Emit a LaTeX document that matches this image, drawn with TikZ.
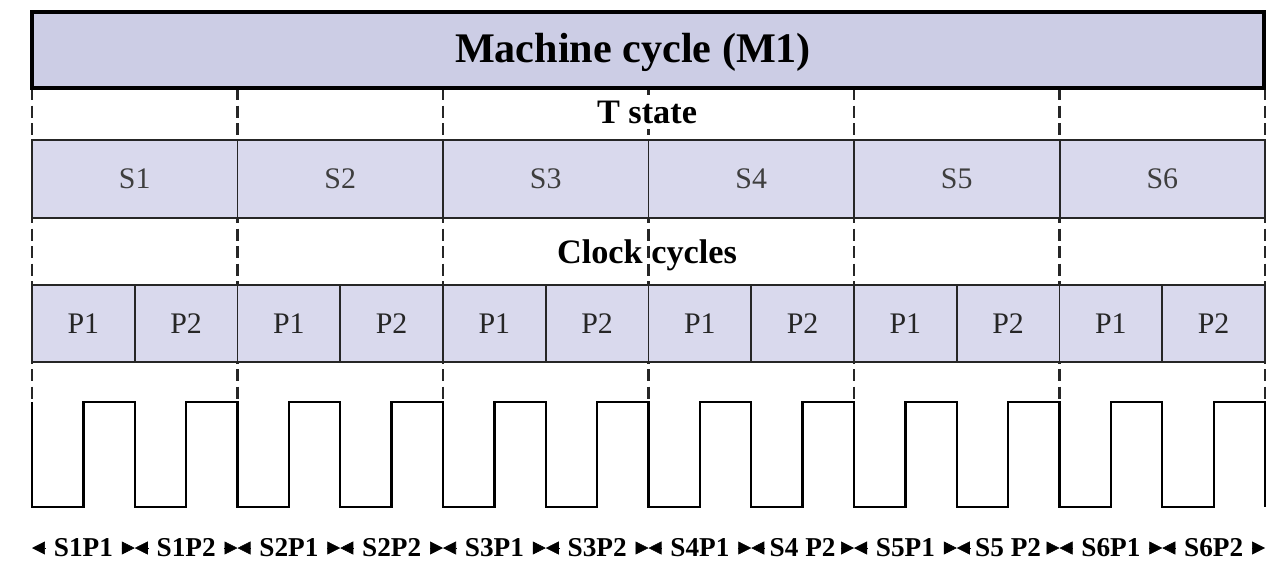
\documentclass[tikz,border=0pt]{standalone}
\usepackage{fontspec}
\setmainfont{Liberation Serif}
\usetikzlibrary{arrows.meta}
\definecolor{headfill}{RGB}{204,205,229}
\definecolor{cellfill}{RGB}{217,217,237}
\definecolor{labgray}{RGB}{62,62,62}

\begin{document}
\begin{tikzpicture}[x=0.02cm, y=-0.02cm,
  every node/.style={inner sep=0pt, outer sep=0pt},
  head/.style={draw=black, line width=2.2pt, fill=headfill,
    minimum width=24.64cm, minimum height=1.52cm},
  htext/.style={anchor=base, font=\bfseries\fontsize{24}{24}\selectfont},
  rowtitle/.style={anchor=base, font=\bfseries\fontsize{19.5}{20}\selectfont},
  scell/.style={draw=black!85, line width=1.1pt, fill=cellfill,
    minimum width=4.11cm, minimum height=1.56cm, text=labgray,
    font=\fontsize{17}{17}\selectfont},
  pcell/.style={draw=black!85, line width=1.1pt, fill=cellfill,
    minimum width=2.055cm, minimum height=1.54cm, text=black!85,
    font=\fontsize{17}{17}\selectfont},
  guide/.style={black!85, line width=1.4pt, dash pattern=on 7pt off 3pt},
  wave/.style={black, line width=1.3pt, line join=miter},
  lab/.style={minimum width=1.535cm, font=\bfseries\fontsize{15.5}{15.5}\selectfont},
  tip/.style={-{Triangle[length=0.26cm, width=0.26cm]}, line width=0.3pt}
]
\useasboundingbox (0,0) rectangle (1266,571);
% dashed state boundaries, cells are drawn on top
\foreach \x in {32,237.5,443,648.5,854,1059.5,1265}
  \draw[guide] (\x,88) -- (\x,402);
\node[head] (mbox) at (648,50) {};
\node[htext] (mtitle) at (633,63) {Machine cycle (M1)};
\node[rowtitle, fill=white, inner ysep=3pt] (tstate) at (647,123) {T state};
\node[scell] (s1) at (134.75,179) {S1};
\node[scell] (s2) at (340.25,179) {S2};
\node[scell] (s3) at (545.75,179) {S3};
\node[scell] (s4) at (751.25,179) {S4};
\node[scell] (s5) at (956.75,179) {S5};
\node[scell] (s6) at (1162.25,179) {S6};
\node[rowtitle] (clk) at (647,263) {Clock cycles};
\node[pcell] (p1a) at (83.375,323.5) {P1};
\node[pcell] (p1b) at (186.125,323.5) {P2};
\node[pcell] (p2a) at (288.875,323.5) {P1};
\node[pcell] (p2b) at (391.625,323.5) {P2};
\node[pcell] (p3a) at (494.375,323.5) {P1};
\node[pcell] (p3b) at (597.125,323.5) {P2};
\node[pcell] (p4a) at (699.875,323.5) {P1};
\node[pcell] (p4b) at (802.625,323.5) {P2};
\node[pcell] (p5a) at (905.375,323.5) {P1};
\node[pcell] (p5b) at (1008.125,323.5) {P2};
\node[pcell] (p6a) at (1110.875,323.5) {P1};
\node[pcell] (p6b) at (1213.625,323.5) {P2};
% clock waveform
\draw[wave] (32,402) \foreach \k in {1,...,12} {
  -- ++(0,105) -- ++(51.375,0) -- ++(0,-105) -- ++(51.375,0) } -- ++(0,105);
% phase labels
\coordinate (q0) at (32,548);
\coordinate (q1) at (134.75,548);
\coordinate (q2) at (237.5,548);
\coordinate (q3) at (340.25,548);
\coordinate (q4) at (443,548);
\coordinate (q5) at (545.75,548);
\coordinate (q6) at (648.5,548);
\coordinate (q7) at (751.25,548);
\coordinate (q8) at (854,548);
\coordinate (q9) at (956.75,548);
\coordinate (q10) at (1059.5,548);
\coordinate (q11) at (1162.25,548);
\coordinate (q12) at (1265,548);
\node[lab] (s1p1) at (83.375,548) {S1P1};
\node[lab] (s1p2) at (186.125,548) {S1P2};
\node[lab] (s2p1) at (288.875,548) {S2P1};
\node[lab] (s2p2) at (391.625,548) {S2P2};
\node[lab] (s3p1) at (494.375,548) {S3P1};
\node[lab] (s3p2) at (597.125,548) {S3P2};
\node[lab] (s4p1) at (699.875,548) {S4P1};
\node[lab] (s4p2) at (802.625,548) {S4 P2};
\node[lab] (s5p1) at (905.375,548) {S5P1};
\node[lab] (s5p2) at (1008.125,548) {S5 P2};
\node[lab] (s6p1) at (1110.875,548) {S6P1};
\node[lab] (s6p2) at (1213.625,548) {S6P2};
\draw[tip] (s1p1) -- (q0); \draw[tip] (s1p1) -- (q1);
\draw[tip] (s1p2) -- (q1); \draw[tip] (s1p2) -- (q2);
\draw[tip] (s2p1) -- (q2); \draw[tip] (s2p1) -- (q3);
\draw[tip] (s2p2) -- (q3); \draw[tip] (s2p2) -- (q4);
\draw[tip] (s3p1) -- (q4); \draw[tip] (s3p1) -- (q5);
\draw[tip] (s3p2) -- (q5); \draw[tip] (s3p2) -- (q6);
\draw[tip] (s4p1) -- (q6); \draw[tip] (s4p1) -- (q7);
\draw[tip] (s4p2) -- (q7); \draw[tip] (s4p2) -- (q8);
\draw[tip] (s5p1) -- (q8); \draw[tip] (s5p1) -- (q9);
\draw[tip] (s5p2) -- (q9); \draw[tip] (s5p2) -- (q10);
\draw[tip] (s6p1) -- (q10); \draw[tip] (s6p1) -- (q11);
\draw[tip] (s6p2) -- (q11); \draw[tip] (s6p2) -- (q12);
\end{tikzpicture}
\end{document}
